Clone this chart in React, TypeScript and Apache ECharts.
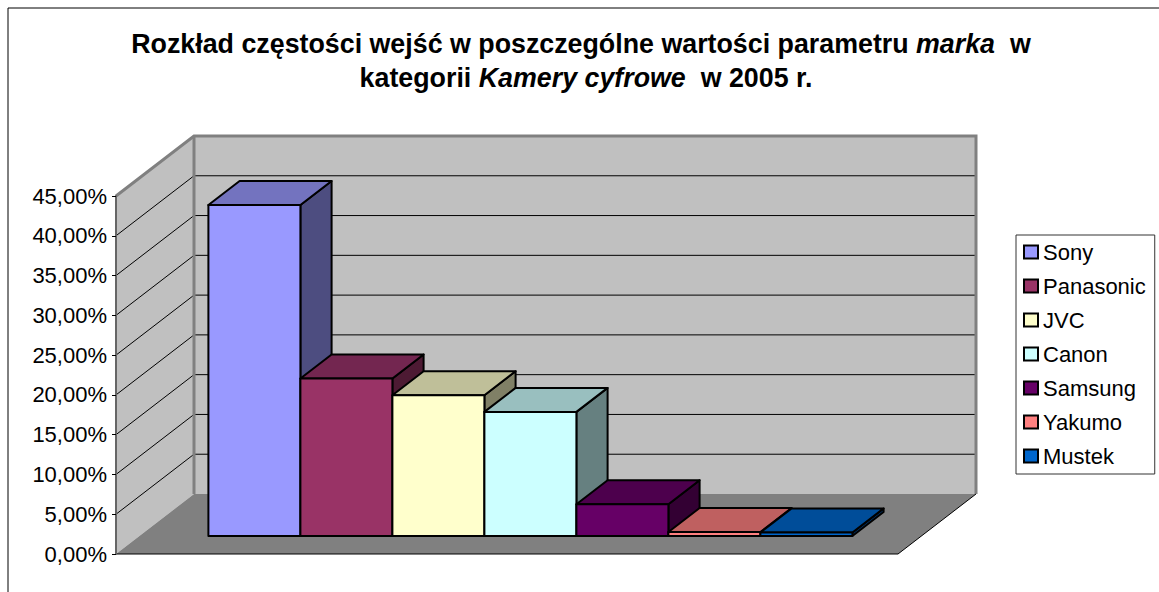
import React, { useEffect, useRef } from "react";
import * as echarts from "echarts";

const brands = ["Sony", "Panasonic", "JVC", "Canon", "Samsung", "Yakumo", "Mustek"];
const shares = [41.6, 19.8, 17.7, 15.6, 4.0, 0.5, 0.45];
const frontColors = ["#9999FF", "#993366", "#FFFFCC", "#CCFFFF", "#660066", "#FF8080", "#0066CC"];
const topColors = ["#7373BF", "#732650", "#BFBF99", "#99BFBF", "#4D004D", "#BF6060", "#004D99"];
const sideColors = ["#4D4D80", "#4D1A33", "#808066", "#668080", "#330033", "#804040", "#003366"];
const axisTicks = [0, 5, 10, 15, 20, 25, 30, 35, 40, 45];
const titleLine1 = ["Rozkład częstości wejść w poszczególne wartości parametru ", "marka", "  w"];
const titleLine2 = ["kategorii ", "Kamery cyfrowe", "  w 2005 r."];

const FONT = "'Liberation Sans', Arial, sans-serif";
const X_MIN = -1.25;
const X_MAX = 7.25;
// 3D projection: one full depth of the floor, in pixels
const DX = 78;
const DY = -60;
const BAR_NEAR = 0.3;
const BAR_FAR = 0.7;

const at = (api: any, x: number, v: number, depth: number) => {
  const p = api.coord([x, v]);
  return [p[0] + DX * depth, p[1] + DY * depth];
};

const renderWalls = (_p: any, api: any) => {
  const a = at(api, X_MIN, 0, 0);
  const b = at(api, X_MAX, 0, 0);
  const c = at(api, X_MAX, 0, 1);
  const d = at(api, X_MIN, 0, 1);
  const dTop = at(api, X_MIN, 45, 1);
  const cTop = at(api, X_MAX, 45, 1);
  const aTop = at(api, X_MIN, 45, 0);
  return {
    type: "group",
    children: [
      { type: "polygon", shape: { points: [aTop, dTop, d, a] }, style: { fill: "#C0C0C0" } },
      { type: "polygon", shape: { points: [dTop, cTop, c, d] }, style: { fill: "#C0C0C0" } },
      { type: "polygon", shape: { points: [a, b, c, d] }, style: { fill: "#808080" } },
    ],
  };
};

const renderGridline = (_p: any, api: any) => {
  const v = api.value(0);
  const a = at(api, X_MIN, v, 0);
  const b = at(api, X_MIN, v, 1);
  const c = at(api, X_MAX, v, 1);
  return {
    type: "polyline",
    shape: { points: [a, b, c] },
    style: { fill: "none", stroke: "#000", lineWidth: 1 },
  };
};

const renderEdges = (_p: any, api: any) => {
  const a = at(api, X_MIN, 0, 0);
  const b = at(api, X_MAX, 0, 0);
  const c = at(api, X_MAX, 0, 1);
  const d = at(api, X_MIN, 0, 1);
  const dTop = at(api, X_MIN, 45, 1);
  const cTop = at(api, X_MAX, 45, 1);
  const aTop = at(api, X_MIN, 45, 0);
  const gray = { fill: "none", stroke: "#808080", lineWidth: 3 };
  return {
    type: "group",
    children: [
      { type: "polyline", shape: { points: [aTop, dTop, cTop, c] }, style: gray },
      { type: "polyline", shape: { points: [dTop, d] }, style: gray },
      { type: "polyline", shape: { points: [a, b, c] }, style: { fill: "none", stroke: "#000", lineWidth: 1 } },
    ],
  };
};

const makeBar = (k: number) => (_p: any, api: any) => {
  const i = api.value(0);
  const v = api.value(1);
  const hw = api.size([1, 0])[0] / 2;
  const corner = (x: number, val: number, depth: number) => {
    const p = api.coord([i, val]);
    return [p[0] + x * hw + DX * depth, p[1] + DY * depth];
  };
  const style = { stroke: "#000", lineWidth: 2, lineJoin: "round" };
  return {
    type: "group",
    children: [
      {
        type: "polygon",
        shape: { points: [corner(1, 0, BAR_NEAR), corner(1, 0, BAR_FAR), corner(1, v, BAR_FAR), corner(1, v, BAR_NEAR)] },
        style: { ...style, fill: sideColors[k] },
      },
      {
        type: "polygon",
        shape: { points: [corner(-1, v, BAR_NEAR), corner(1, v, BAR_NEAR), corner(1, v, BAR_FAR), corner(-1, v, BAR_FAR)] },
        style: { ...style, fill: topColors[k] },
      },
      {
        type: "polygon",
        shape: { points: [corner(-1, 0, BAR_NEAR), corner(1, 0, BAR_NEAR), corner(1, v, BAR_NEAR), corner(-1, v, BAR_NEAR)] },
        style: { ...style, fill: frontColors[k] },
      },
    ],
  };
};

const titleRich = {
  b: { fontFamily: FONT, fontSize: 26.8, fontWeight: "bold", color: "#000" },
  i: { fontFamily: FONT, fontSize: 26.8, fontWeight: "bold", fontStyle: "italic", color: "#000" },
};
const richLine = (l: string[]) => `{b|${l[0]}}{i|${l[1]}}{b|${l[2]}}`;

export default function App() {
  const ref = useRef<HTMLDivElement>(null);
  useEffect(() => {
    const chart = echarts.init(ref.current!, undefined, { renderer: "svg" });
    chart.setOption({
      animation: false,
      backgroundColor: "#fff",
      title: [
        { text: richLine(titleLine1), left: 581, top: 30, textAlign: "center", padding: 0, textStyle: { rich: titleRich } },
        { text: richLine(titleLine2), left: 586, top: 64, textAlign: "center", padding: 0, textStyle: { rich: titleRich } },
      ],
      graphic: [
        {
          type: "rect",
          shape: { x: 8, y: 8, width: 1170, height: 600 },
          style: { fill: "none", stroke: "#000", lineWidth: 1 },
          silent: true,
        },
      ],
      legend: {
        data: brands,
        orient: "vertical",
        left: 1016,
        top: 235,
        backgroundColor: "#fff",
        borderColor: "#333",
        borderWidth: 1,
        borderRadius: 0,
        padding: [5, 9, 6, 7],
        itemWidth: 14,
        itemHeight: 13,
        itemGap: 10,
        icon: "rect",
        itemStyle: { borderColor: "#000", borderWidth: 2 },
        textStyle: { fontFamily: FONT, fontSize: 22, color: "#000", padding: [0, 0, 0, 0], lineHeight: 24 },
      },
      grid: { left: 116, top: 196, width: 782, height: 358 },
      xAxis: { type: "value", min: X_MIN, max: X_MAX, show: false },
      yAxis: {
        type: "value",
        min: 0,
        max: 45,
        interval: 5,
        z: 5,
        splitLine: { show: false },
        axisLine: { show: true, onZero: false, lineStyle: { color: "#666", width: 2 } },
        axisTick: { show: true, length: 4, lineStyle: { color: "#000", width: 1 } },
        axisLabel: {
          margin: 9,
          fontFamily: FONT,
          fontSize: 22,
          color: "#000",
          formatter: (v: number) => v.toFixed(2).replace(".", ",") + "%",
        },
      },
      series: [
        { type: "custom", name: "walls", silent: true, clip: false, z: 1, renderItem: renderWalls, data: [[0]], encode: { x: 0, y: 0 } },
        {
          type: "custom",
          name: "gridlines",
          silent: true,
          clip: false,
          z: 2,
          renderItem: renderGridline,
          data: axisTicks.slice(1, -1).map((t) => [t]),
          encode: { y: 0 },
        },
        { type: "custom", name: "edges", silent: true, clip: false, z: 3, renderItem: renderEdges, data: [[0]], encode: { x: 0, y: 0 } },
        ...brands.map((name, k) => ({
          type: "custom",
          name,
          clip: false,
          z: 10 + k,
          itemStyle: { color: frontColors[k] },
          renderItem: makeBar(k),
          data: [[k, shares[k]]],
          encode: { x: 0, y: 1 },
        })),
      ],
    });
    return () => chart.dispose();
  }, []);
  return <div ref={ref} style={{ position: "fixed", left: 0, top: 0, width: 1159, height: 592 }} />;
}
